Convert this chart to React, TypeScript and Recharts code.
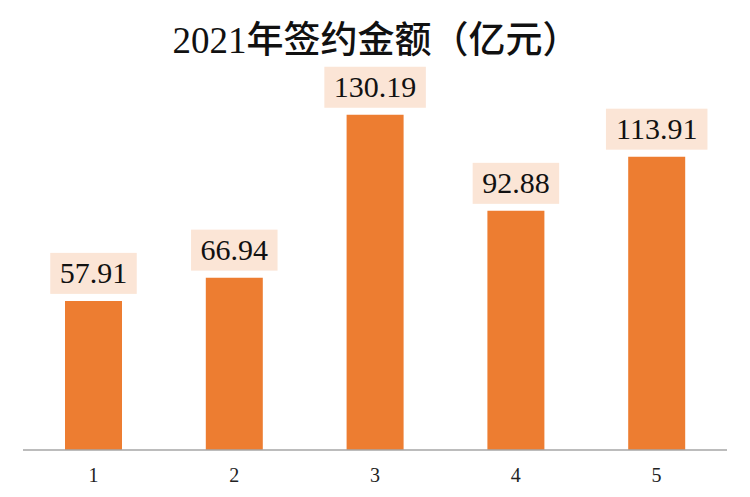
import React from "react";
import { BarChart, Bar, XAxis, YAxis, LabelList } from "recharts";

const categories = ["1", "2", "3", "4", "5"];
const amounts = [57.91, 66.94, 130.19, 92.88, 113.91];
const title = "2021年签约金额（亿元）";

const data = categories.map((c, i) => ({ name: c, value: amounts[i] }));

const FONT = "'Liberation Serif', 'DejaVu Serif', 'Noto Sans CJK SC', serif";

const ValueLabel = (props: any) => {
  const { x, y, width, value } = props;
  const text = Number(value).toFixed(2);
  const fs = 30;
  const tw = text.length * 0.5 * fs - 0.25 * fs;
  const bw = tw + 19;
  const bh = 41;
  const cx = x + width / 2;
  const bottom = y - 7;
  return (
    <g>
      <rect x={cx - bw / 2} y={bottom - bh} width={bw} height={bh} fill="#FBE5D6" />
      <text
        x={cx}
        y={bottom - 11}
        textAnchor="middle"
        fontFamily={FONT}
        fontSize={fs}
        fill="#111"
      >
        {text}
      </text>
    </g>
  );
};

export default function App() {
  return (
    <div style={{ position: "absolute", left: 0, top: 0, width: 750, height: 497, background: "#fff" }}>
      <BarChart
        width={750}
        height={497}
        data={data}
        margin={{ top: 38, right: 23, bottom: 17, left: 23 }}
      >
        <XAxis
          dataKey="name"
          height={30}
          axisLine={{ stroke: "#A6A6A6", strokeWidth: 1.5 }}
          tickLine={false}
          tick={{ fontFamily: FONT, fontSize: 20, fill: "#222" }}
          tickMargin={12}
        />
        <YAxis hide domain={[0, 160]} />
        <Bar dataKey="value" fill="#ED7D31" barSize={57} isAnimationActive={false}>
          <LabelList dataKey="value" content={<ValueLabel />} />
        </Bar>
      </BarChart>
      <div
        style={{
          position: "absolute",
          left: 0,
          width: 752,
          top: 19,
          textAlign: "center",
          fontFamily: FONT,
          fontSize: 37,
          lineHeight: "44px",
          color: "#111",
          fontWeight: 500,
        }}
      >
        {title}
      </div>
    </div>
  );
}
